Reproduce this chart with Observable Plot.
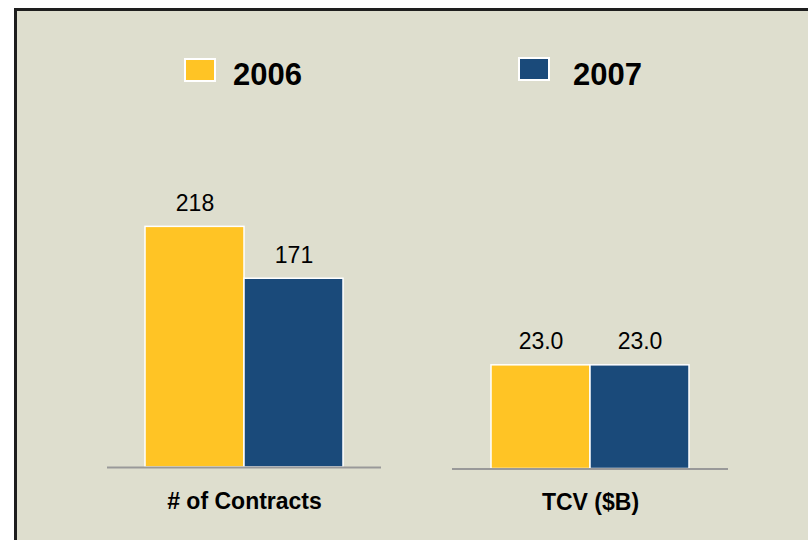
<!DOCTYPE html>
<html>
<head>
<meta charset="utf-8">
<script src="https://cdn.jsdelivr.net/npm/d3@7"></script>
<script src="https://cdn.jsdelivr.net/npm/@observablehq/plot@0.6"></script>
<style>
  html, body { margin: 0; padding: 0; background: #ffffff; width: 808px; height: 540px; overflow: hidden; }
  #frame { position: absolute; left: 14px; top: 8px; width: 900px; height: 700px; box-sizing: border-box;
           border: 3px solid #1e1e1e; background: #DEDECE; }
  .abs { position: absolute; }
</style>
</head>
<body>
<div id="frame"></div>
<div id="legend" class="abs" style="left:0;top:0;"></div>
<div id="p1" class="abs" style="left:107px;top:180px;"></div>
<div id="p2" class="abs" style="left:452px;top:180px;"></div>
<script>
const groups = ["# of Contracts", "TCV ($B)"];
const years = ["2006", "2007"];
const contracts = [218, 171];
const tcv = [23.0, 23.0];
const colors = ["#FFC425", "#1A4A7A"];

const FONT = "'Liberation Sans', Arial, Helvetica, sans-serif";

function groupChart(title, values, fmt, opts) {
  const data = years.map((y, i) => ({year: y, value: values[i]}));
  return Plot.plot({
    width: opts.width,
    height: 350,
    marginLeft: 0,
    marginRight: 0,
    marginTop: 0,
    marginBottom: opts.marginBottom,
    style: {background: "transparent", fontFamily: FONT, overflow: "visible"},
    x: {type: "band", domain: years, range: opts.xRange, padding: 0, axis: null},
    y: {domain: opts.yDomain, axis: null},
    color: {domain: years, range: colors},
    marks: [
      Plot.barY(data, {x: "year", y: "value", fill: "year", stroke: "white", strokeWidth: 1.5}),
      Plot.ruleY([0], {stroke: "#999999", strokeWidth: 2}),
      Plot.text(data, {x: "year", y: "value", text: d => fmt(d.value), dy: -23.5,
                       fontSize: 23, fill: "#000"}),
      Plot.text([title], {frameAnchor: "bottom", lineAnchor: "middle", dy: 34, fontSize: 23,
                          fontWeight: "bold", fill: "#000"})
    ]
  });
}

document.getElementById("p1").appendChild(
  groupChart(groups[0], contracts, d3.format("d"),
             {width: 274, xRange: [38, 236], yDomain: [0, 260], marginBottom: 63}));
document.getElementById("p2").appendChild(
  groupChart(groups[1], tcv, d3.format(".1f"),
             {width: 276, xRange: [38, 237], yDomain: [0, 64], marginBottom: 61.5}));

// Legend
const legendPos = [{sx: 185, sy: 59, tx: 233}, {sx: 519, sy: 58, tx: 573}];
const svg = d3.select("#legend").append("svg")
  .attr("width", 808).attr("height", 120)
  .style("font-family", FONT);
years.forEach((y, i) => {
  const p = legendPos[i];
  svg.append("rect").attr("x", p.sx).attr("y", p.sy).attr("width", 30).attr("height", 22)
    .attr("fill", colors[i]).attr("stroke", "white").attr("stroke-width", 2);
  svg.append("text").attr("x", p.tx).attr("y", 85).attr("font-size", 31).attr("font-weight", "bold")
    .attr("fill", "#000").text(y);
});
</script>
</body>
</html>
